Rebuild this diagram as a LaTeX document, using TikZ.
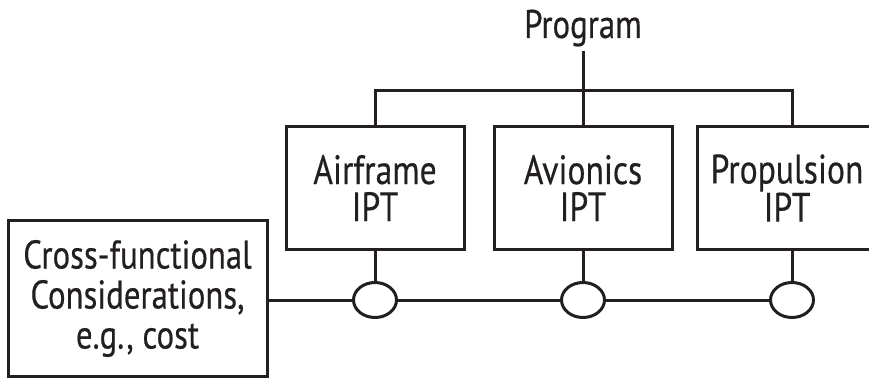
\documentclass[tikz,border=0pt]{standalone}
\usepackage{fontspec}
\setmainfont{PT Sans}[FakeStretch=0.82, FakeBold=0.4]
\usetikzlibrary{shapes.geometric}
\definecolor{ink}{HTML}{231F20}

\begin{document}
\begin{tikzpicture}[x=1pt, y=-1pt, line width=3pt, draw=ink,
  every node/.style={text=ink},
  label text/.style={font=\fontsize{40}{40}\selectfont, inner sep=3pt},
  iptbox/.style={draw=ink, rectangle, minimum width=178pt, minimum height=122pt,
    align=center, inner sep=0pt, font=\fontsize{41}{37}\selectfont},
  crossbox/.style={draw=ink, rectangle, minimum width=259pt, minimum height=155pt,
    align=center, inner sep=0pt, font=\fontsize{40}{40}\selectfont},
  joint/.style={draw=ink, ellipse, minimum width=43pt, minimum height=35pt, inner sep=0pt}]

  \clip (0,0) rectangle (869,379);

  % top of the hierarchy
  \node[label text, anchor=base] (prog) at (583,38) {Program};

  % integrated product teams
  \node[iptbox] (b1) at (375,188) {Airframe\\IPT};
  \node[iptbox] (b2) at (583,188) {Avionics\\IPT};
  \node[iptbox, minimum width=180pt] (b3) at (787,188) {Propulsion\\IPT};

  % cross-functional box on the left
  \node[crossbox] (cross) at (137.5,298.5) {Cross-functional\\Considerations,\\e.g., cost};

  % joints on the shared horizontal link
  \node[joint] (e1) at (375,300) {};
  \node[joint] (e2) at (583,300) {};
  \node[joint] (e3) at (792,300) {};

  % branch points of the tree
  \coordinate (t3) at (792,91);

  % tree from program to the teams
  \draw (prog.south) -- (b2.north);
  \draw (b1.north) |- (t3) -- (b3.north -| t3);

  % teams down to their joints
  \draw (b1.south) -- (e1.north);
  \draw (b2.south) -- (e2.north);
  \draw (b3.south -| e3) -- (e3.north);

  % horizontal link from the cross-functional box
  \draw (cross.east |- e1) -- (e1.west);
  \draw (e1.east) -- (e2.west);
  \draw (e2.east) -- (e3.west);
\end{tikzpicture}
\end{document}
